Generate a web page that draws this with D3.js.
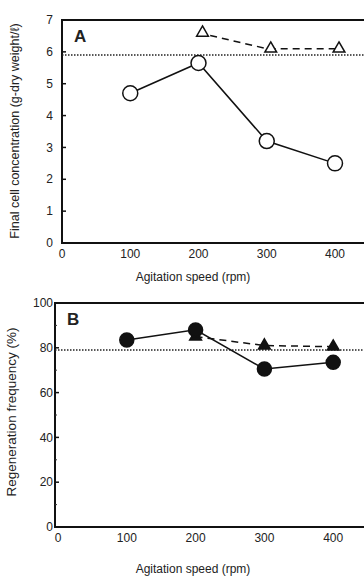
<!DOCTYPE html>
<html>
<head>
<meta charset="utf-8">
<script src="https://cdn.jsdelivr.net/npm/d3@7"></script>
<style>
  body { margin: 0; background: #fff; }
  svg { display: block; }
  text { font-family: "Liberation Sans", Arial, sans-serif; fill: #222; }
</style>
</head>
<body>
<script>
// Data
const speeds = [100, 200, 300, 400];
const xTicks = [0, 100, 200, 300, 400];

// Panel A: final cell concentration
const cellCircle = [4.7, 5.65, 3.2, 2.5];
const cellTriangleSpeeds = [200, 300, 400];
const cellTriangle = [6.6, 6.1, 6.1];
const cellReference = 5.9;
const cellTicks = [0, 1, 2, 3, 4, 5, 6, 7];

// Panel B: regeneration frequency
const regenCircle = [83.5, 88, 70.5, 73.5];
const regenTriangleSpeeds = [200, 300, 400];
const regenTriangle = [85, 81, 80.5];
const regenReference = 79;
const regenTicks = [0, 20, 40, 60, 80, 100];
const regenMinorTicks = [10, 30, 50, 70, 90];

const width = 364, height = 576;

const svg = d3.select('body')
  .append('svg')
  .attr('width', width)
  .attr('height', height);

const triangle = d3.symbol().type(d3.symbolTriangle);

function drawPanel(cfg) {
  const x = d3.scaleLinear().domain([0, 450]).range([cfg.left, cfg.left + 450 * cfg.pxPer]);
  const y = d3.scaleLinear().domain(cfg.yDomain).range([cfg.bottom, cfg.top]);
  const g = svg.append('g');

  // frame (right side runs off the page)
  g.append('path')
    .attr('d', `M${x(450)},${cfg.top} L${cfg.axisX},${cfg.top} L${cfg.axisX},${cfg.bottom} L${x(450)},${cfg.bottom}`)
    .attr('fill', 'none')
    .attr('stroke', '#111')
    .attr('stroke-width', 2);

  // y ticks pointing inward
  g.selectAll('.ytick')
    .data(cfg.yTicks)
    .enter()
    .append('line')
    .attr('x1', cfg.axisX)
    .attr('x2', cfg.axisX + 4)
    .attr('y1', d => y(d))
    .attr('y2', d => y(d))
    .attr('stroke', '#111')
    .attr('stroke-width', 1.5);

  if (cfg.minorTicks) {
    g.selectAll('.mtick')
      .data(cfg.minorTicks)
      .enter()
      .append('line')
      .attr('x1', cfg.axisX)
      .attr('x2', cfg.axisX + 2)
      .attr('y1', d => y(d))
      .attr('y2', d => y(d))
      .attr('stroke', '#333')
      .attr('stroke-width', 1);
  }

  g.selectAll('.ylab')
    .data(cfg.yTicks)
    .enter()
    .append('text')
    .attr('x', cfg.axisX - cfg.yLabGap)
    .attr('y', d => y(d))
    .attr('dy', '0.35em')
    .attr('text-anchor', 'end')
    .attr('font-size', 12)
    .text(d => d);

  g.selectAll('.xlab')
    .data(xTicks)
    .enter()
    .append('text')
    .attr('x', d => x(d))
    .attr('y', cfg.bottom + 11)
    .attr('dy', '0.35em')
    .attr('text-anchor', 'middle')
    .attr('font-size', 12)
    .text(d => d);

  g.append('text')
    .attr('x', 193)
    .attr('y', cfg.xLabelY)
    .attr('text-anchor', 'middle')
    .attr('font-size', 12)
    .text('Agitation speed (rpm)');

  g.append('text')
    .attr('transform', `translate(${cfg.yLabelX},${cfg.yLabelY}) rotate(-90)`)
    .attr('text-anchor', 'middle')
    .attr('font-size', cfg.yLabelSize)
    .text(cfg.yLabel);

  g.append('text')
    .attr('x', cfg.axisX + 12)
    .attr('y', cfg.top + 22)
    .attr('font-size', 17)
    .attr('font-weight', 'bold')
    .text(cfg.letter);

  // dotted reference line
  g.append('line')
    .attr('x1', cfg.axisX)
    .attr('x2', width)
    .attr('y1', y(cfg.reference))
    .attr('y2', y(cfg.reference))
    .attr('stroke', '#222')
    .attr('stroke-width', 1.5)
    .attr('stroke-dasharray', '1.5,1.5');

  const line = d3.line().x(d => x(d[0])).y(d => y(d[1]));

  const tri = cfg.triSpeeds.map((s, i) => [s, cfg.triValues[i]]);
  g.append('path')
    .attr('d', line(tri))
    .attr('fill', 'none')
    .attr('stroke', '#111')
    .attr('stroke-width', 1.5)
    .attr('stroke-dasharray', '7,5');

  const circ = speeds.map((s, i) => [s, cfg.circValues[i]]);
  g.append('path')
    .attr('d', line(circ))
    .attr('fill', 'none')
    .attr('stroke', '#111')
    .attr('stroke-width', 1.5);

  g.selectAll('.tri')
    .data(tri)
    .enter()
    .append('path')
    .attr('d', triangle.size(cfg.triSize))
    .attr('transform', d => `translate(${x(d[0]) + cfg.triShift},${y(d[1])})`)
    .attr('fill', cfg.filled ? '#111' : '#fff')
    .attr('stroke', '#111')
    .attr('stroke-width', 1.5);

  g.selectAll('.circ')
    .data(circ)
    .enter()
    .append('circle')
    .attr('cx', d => x(d[0]))
    .attr('cy', d => y(d[1]))
    .attr('r', cfg.radius)
    .attr('fill', cfg.filled ? '#111' : '#fff')
    .attr('stroke', '#111')
    .attr('stroke-width', 1.5);
}

drawPanel({
  letter: 'A',
  left: 62, pxPer: 0.6825, axisX: 62,
  top: 20, bottom: 243,
  yDomain: [0, 7], yTicks: cellTicks, yLabGap: 9,
  circValues: cellCircle,
  triSpeeds: cellTriangleSpeeds, triValues: cellTriangle,
  reference: cellReference,
  filled: false, radius: 7.5, triSize: 60, triShift: 4,
  xLabelY: 281,
  yLabel: 'Final cell concentration (g-dry weight/ℓ)', yLabelSize: 12.5,
  yLabelX: 19, yLabelY: 131
});

drawPanel({
  letter: 'B',
  left: 58, pxPer: 0.688, axisX: 55,
  top: 303, bottom: 527,
  yDomain: [0, 100], yTicks: regenTicks, minorTicks: regenMinorTicks, yLabGap: 2,
  circValues: regenCircle,
  triSpeeds: regenTriangleSpeeds, triValues: regenTriangle,
  reference: regenReference,
  filled: true, radius: 7, triSize: 60, triShift: 0,
  xLabelY: 573,
  yLabel: 'Regeneration frequency (%)', yLabelSize: 13.5,
  yLabelX: 16, yLabelY: 412
});
</script>
</body>
</html>
